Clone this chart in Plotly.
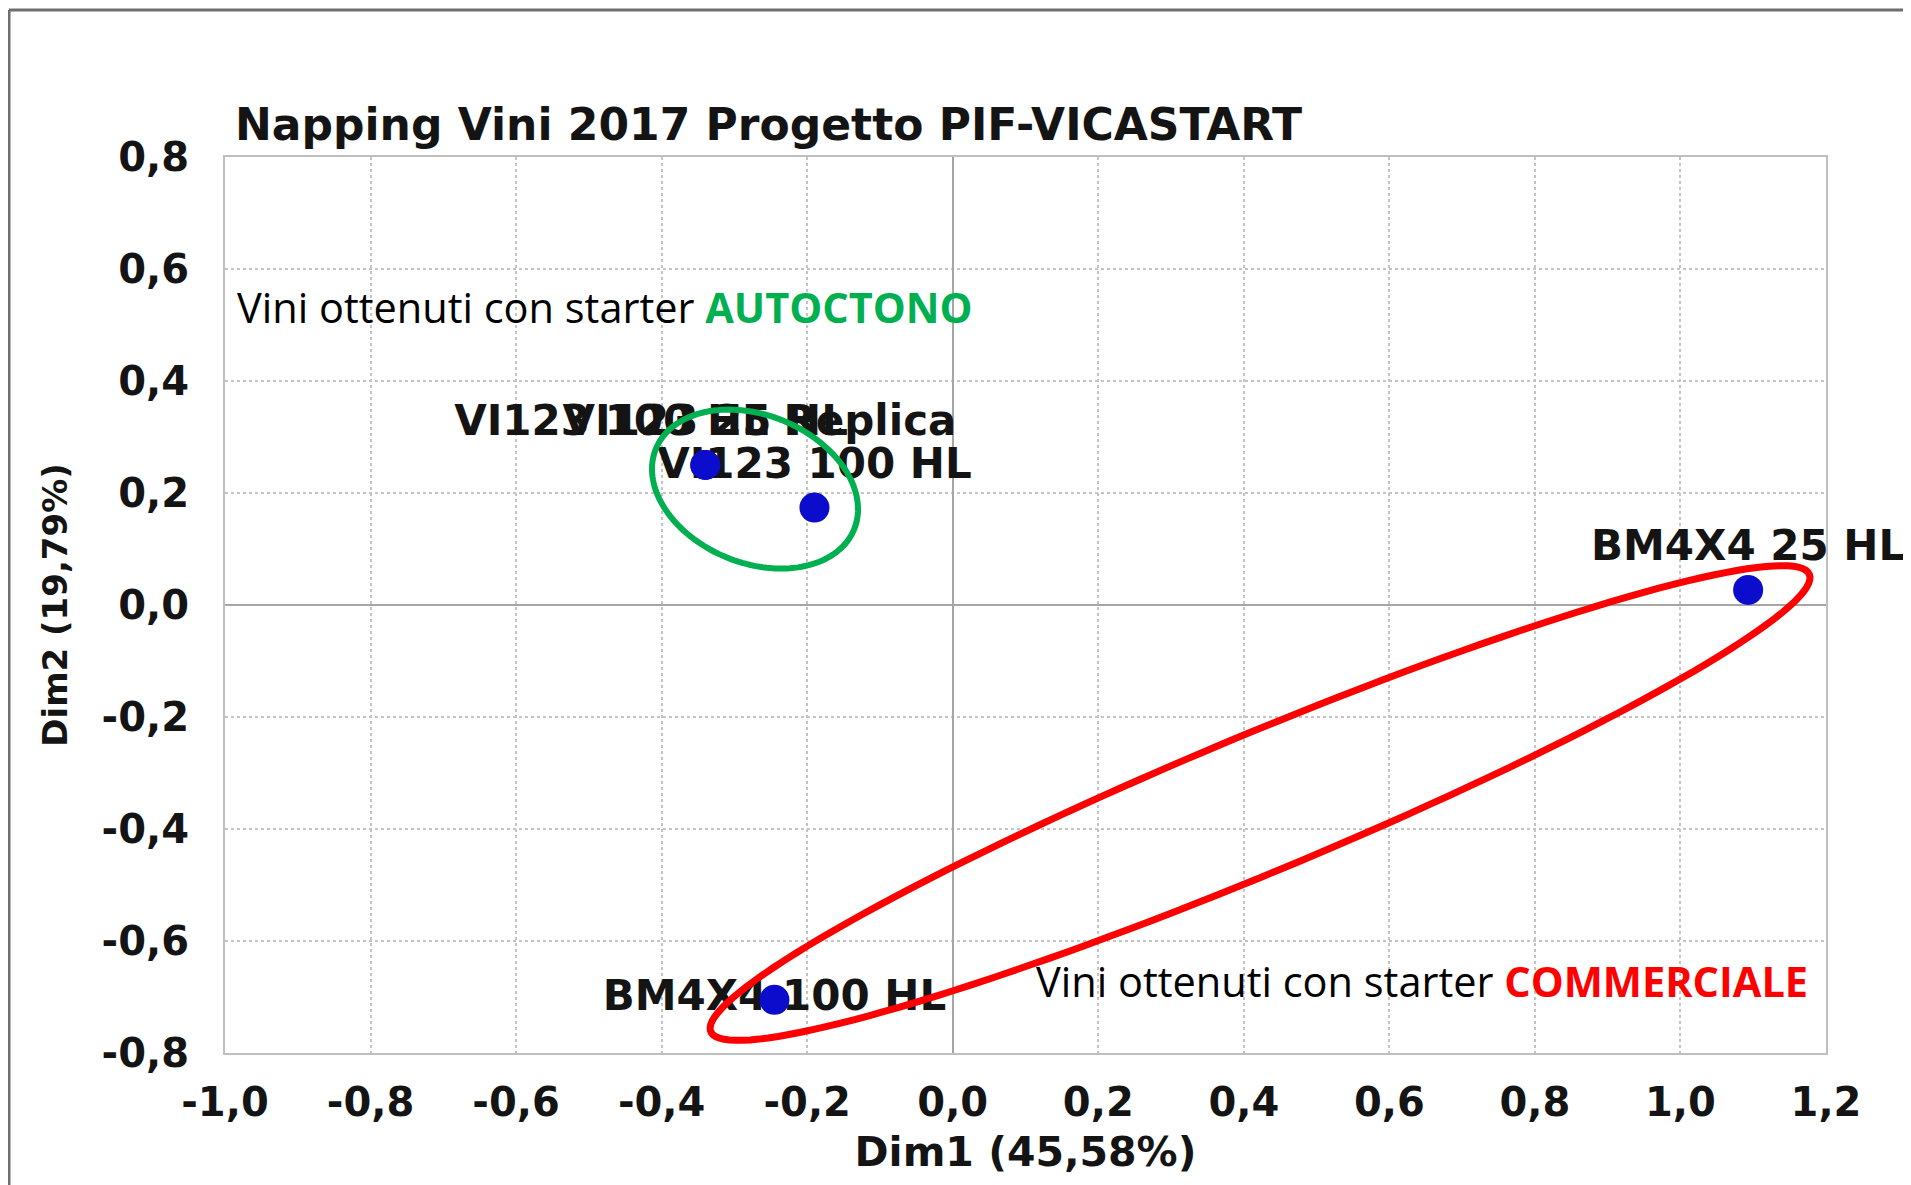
import numpy as np
import plotly.graph_objects as go

# campioni sul piano fattoriale Dim1 / Dim2
samples = ["VI123 25 HL", "VI123 100 HL Replica", "VI123 100 HL", "BM4X4 25 HL", "BM4X4 100 HL"]
dim1 = [-0.34, -0.34, -0.19, 1.093, -0.245]
dim2 = [0.25, 0.25, 0.174, 0.027, -0.705]
label_pos = ["top center", "top center", "top center", "top center", "middle center"]

x_ticks = [-1.0, -0.8, -0.6, -0.4, -0.2, 0.0, 0.2, 0.4, 0.6, 0.8, 1.0, 1.2]
x_tick_text = ["-1,0", "-0,8", "-0,6", "-0,4", "-0,2", "0,0", "0,2", "0,4", "0,6", "0,8", "1,0", "1,2"]
y_ticks = [-0.8, -0.6, -0.4, -0.2, 0.0, 0.2, 0.4, 0.6, 0.8]
y_tick_text = ["-0,8", "-0,6", "-0,4", "-0,2", "0,0", "0,2", "0,4", "0,6", "0,8"]

# la pagina html aggiunge 8px di margine al body
W, H = 1903, 1177
M = dict(l=217, r=85, t=149, b=132)
X_RANGE = [-1.0, 1.2]
Y_RANGE = [-0.8, 0.8]
px_x = (W - M["l"] - M["r"]) / (X_RANGE[1] - X_RANGE[0])
px_y = (H - M["t"] - M["b"]) / (Y_RANGE[1] - Y_RANGE[0])

BOLD = "DejaVu Sans"
TXT = "#141414"


def ellipse_path(cx, cy, a, b, angle):
    # a, b semiassi in pixel, angle in gradi (senso orario sullo schermo)
    t = np.linspace(0, 2 * np.pi, 160)
    th = np.radians(angle)
    ex = a * np.cos(t) * np.cos(th) - b * np.sin(t) * np.sin(th)
    ey = a * np.cos(t) * np.sin(th) + b * np.sin(t) * np.cos(th)
    xs = cx + ex / px_x
    ys = cy - ey / px_y
    pts = ["%.5f,%.5f" % (x, y) for x, y in zip(xs, ys)]
    return "M " + " L ".join(pts) + " Z"


def paper_x(px):
    return (px - M["l"]) / (W - M["l"] - M["r"])


def paper_y(py):
    return (H - M["b"] - py) / (H - M["t"] - M["b"])


fig = go.Figure()

# etichette sotto i punti
fig.add_trace(go.Scatter(
    x=dim1, y=dim2, mode="markers+text", text=samples,
    textposition=label_pos,
    marker=dict(size=29, opacity=0),
    textfont=dict(family=BOLD, size=42, color=TXT, weight="bold"),
    cliponaxis=False, hoverinfo="skip", showlegend=False,
))
fig.add_trace(go.Scatter(
    x=dim1, y=dim2, mode="markers",
    marker=dict(size=30, color="#0C0CCC", line=dict(width=0)),
    cliponaxis=False, hovertext=samples, showlegend=False,
))

fig.add_shape(type="path", xref="x", yref="y",
              path=ellipse_path(-0.2717, 0.207, 107, 74, 22),
              line=dict(color="#00B050", width=6))
fig.add_shape(type="path", xref="x", yref="y",
              path=ellipse_path(0.4223, -0.3536, 595, 69, -22.6),
              line=dict(color="#FF0000", width=7))

# cornice esterna dell'immagine
fig.add_shape(type="line", xref="paper", yref="paper",
              x0=paper_x(1), x1=paper_x(W + 5), y0=paper_y(2), y1=paper_y(2),
              line=dict(color="#6E6E6E", width=3))
fig.add_shape(type="line", xref="paper", yref="paper",
              x0=paper_x(1), x1=paper_x(1), y0=paper_y(2), y1=paper_y(H + 5),
              line=dict(color="#6E6E6E", width=3))

fig.add_annotation(
    x=-0.986, y=0.532, xref="x", yref="y", xanchor="left", yanchor="middle",
    text='Vini ottenuti con starter <span style="color:#00B050"><b>AUTOCTONO</b></span>',
    showarrow=False, font=dict(family="Open Sans", size=41.5, color="#000000"),
)
fig.add_annotation(
    x=0.112, y=-0.671, xref="x", yref="y", xanchor="left", yanchor="middle",
    text='Vini ottenuti con starter <span style="color:#FF0000"><b>COMMERCIALE</b></span>',
    showarrow=False, font=dict(family="Open Sans", size=41.5, color="#000000"),
)

fig.update_xaxes(
    range=X_RANGE, tickvals=x_ticks, ticktext=x_tick_text,
    ticks="outside", ticklen=13, tickcolor="rgba(0,0,0,0)",
    tickfont=dict(family=BOLD, size=40, color=TXT, weight="bold"),
    showgrid=True, gridcolor="#C4C4C4", griddash="dot", gridwidth=2,
    zeroline=True, zerolinecolor="#A6A6A6", zerolinewidth=2,
    showline=True, mirror=True, linecolor="#BFBFBF", linewidth=2,
    title=dict(text="Dim1 (45,58%)", standoff=13,
               font=dict(family=BOLD, size=41, color=TXT, weight="bold")),
)
fig.update_yaxes(
    range=Y_RANGE, tickvals=y_ticks, ticktext=y_tick_text,
    ticks="outside", ticklen=26, tickcolor="rgba(0,0,0,0)",
    tickfont=dict(family=BOLD, size=40, color=TXT, weight="bold"),
    showgrid=True, gridcolor="#C4C4C4", griddash="dot", gridwidth=2,
    zeroline=True, zerolinecolor="#A6A6A6", zerolinewidth=2,
    showline=True, mirror=True, linecolor="#BFBFBF", linewidth=2,
    title=dict(text="Dim2 (19,79%)", standoff=24,
               font=dict(family=BOLD, size=34, color=TXT, weight="bold")),
)

fig.update_layout(
    width=W, height=H,
    margin=M,
    paper_bgcolor="white",
    plot_bgcolor="white",
    title=dict(text="Napping Vini 2017 Progetto PIF-VICASTART",
               x=227 / W, xanchor="left", xref="container",
               y=1 - 117 / H, yanchor="middle", yref="container",
               font=dict(family=BOLD, size=44, color=TXT, weight="bold")),
    showlegend=False,
)

fig.write_html("out.html")
